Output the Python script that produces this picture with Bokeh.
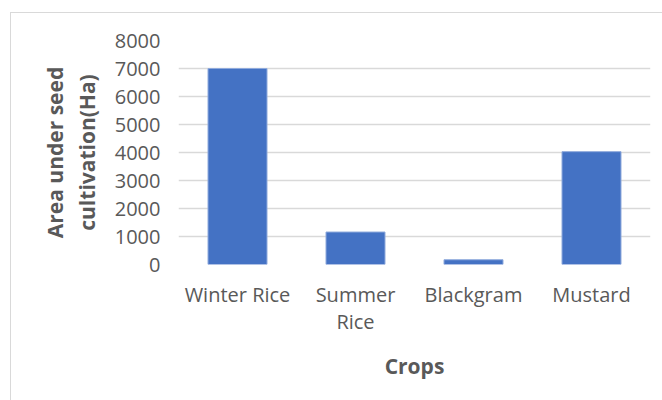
from bokeh.plotting import figure
from bokeh.models import FixedTicker
from bokeh.embed import file_html
from bokeh.resources import INLINE

crops = ["Winter Rice", "Summer\nRice", "Blackgram", "Mustard"]
area_ha = [7000, 1160, 170, 4030]
y_ticks = [0, 1000, 2000, 3000, 4000, 5000, 6000, 7000, 8000]

FONT = "Open Sans"
GREY = "#595959"

p = figure(x_range=crops, y_range=(0, 8000), width=651, height=387,
           output_backend="svg", toolbar_location=None,
           min_border_left=167, min_border_right=12,
           min_border_top=27, min_border_bottom=136)
p.margin = (13, 0, 0, 11)
p.styles = {"outline": "1px solid #d9d9d9"}

p.vbar(x=crops, top=area_ha, width=0.5, fill_color="#4472c4",
       line_color="#8faadc", line_width=1)

p.outline_line_color = None
p.xgrid.grid_line_color = None
p.ygrid.grid_line_color = "#d9d9d9"
p.ygrid.grid_line_width = 1.5
p.yaxis.ticker = FixedTicker(ticks=y_ticks)

for ax in (p.xaxis[0], p.yaxis[0]):
    ax.axis_line_color = None
    ax.major_tick_line_color = None
    ax.minor_tick_line_color = None
    ax.major_label_text_font = FONT
    ax.major_label_text_font_size = "20px"
    ax.major_label_text_color = GREY
    ax.axis_label_text_font = FONT
    ax.axis_label_text_font_size = "21px"
    ax.axis_label_text_font_style = "bold"
    ax.axis_label_text_color = GREY

p.xaxis.major_label_text_line_height = 1.03
p.yaxis.axis_label_text_line_height = 1.15
p.yaxis.major_label_standoff = 12
p.yaxis.axis_label = "Area under seed\ncultivation(Ha)"
p.yaxis.axis_label_standoff = 11
p.xaxis.major_label_standoff = 10
p.xaxis.axis_label = "Crops"
p.xaxis.axis_label_standoff = 14

open("out.html", "w").write(file_html(p, INLINE))
